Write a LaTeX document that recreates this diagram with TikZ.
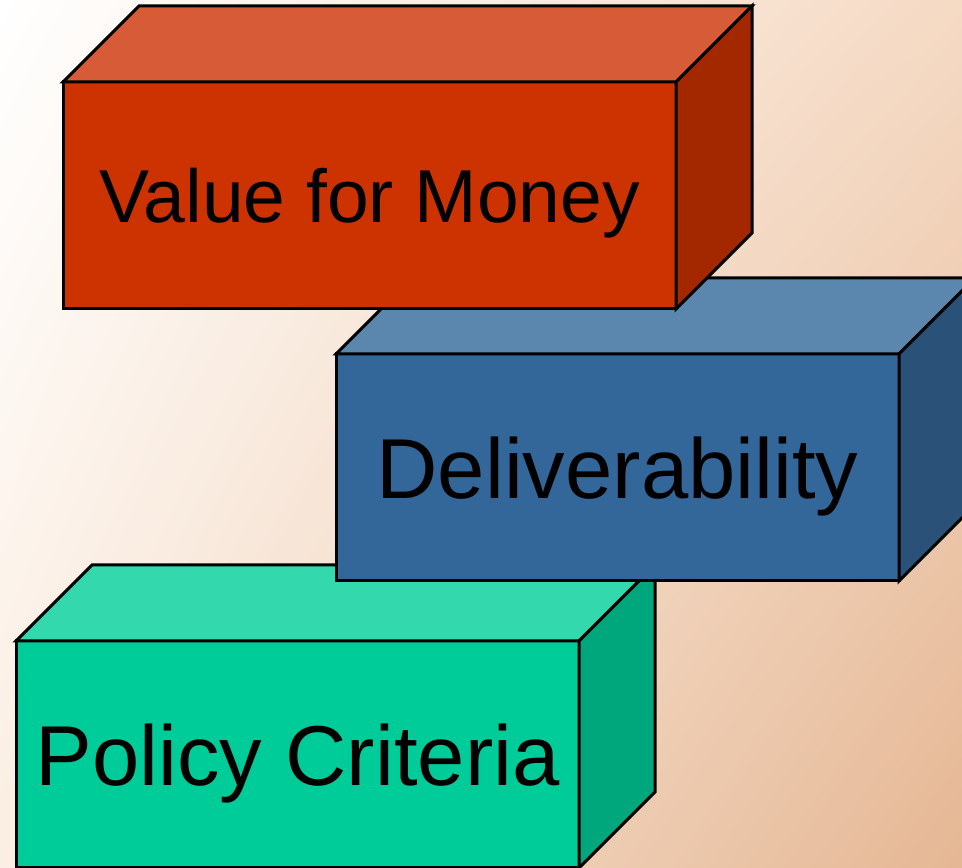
\documentclass[tikz,border=0pt]{standalone}
\usepackage{fontspec}
\setmainfont{Liberation Sans}
\usepackage{tikz}
\usetikzlibrary{positioning, calc, shadings}

\definecolor{vfmfront}{HTML}{CC3300}
\definecolor{vfmtop}{HTML}{D65B36}
\definecolor{vfmside}{HTML}{A32800}
\definecolor{delfront}{HTML}{336699}
\definecolor{deltop}{HTML}{5B86AE}
\definecolor{delside}{HTML}{2A5279}
\definecolor{polfront}{HTML}{00CC99}
\definecolor{poltop}{HTML}{33D9AD}
\definecolor{polside}{HTML}{00A67C}
\definecolor{bgur}{RGB}{245,218,196}
\definecolor{bgll}{RGB}{251,238,226}
\definecolor{bglr}{RGB}{229,183,148}

\tikzset{
  block/.style={draw, line width=3pt, inner sep=0pt, outer sep=0pt,
    minimum width=563pt, minimum height=227pt, text depth=0pt,
    font=\fontsize{85}{90}\selectfont},
  face/.style={draw, line width=3pt}
}

\begin{document}
\begin{tikzpicture}[x=1pt,y=1pt]
  \clip (0,0) rectangle (962,868);
  \shade[upper left=white, upper right=bgur, lower left=bgll, lower right=bglr]
    (0,0) rectangle (962,868);

  % bottom block
  \node[block, fill=polfront] (pol) at (297.5,113.5) {Policy Criteria};
  \draw[face, fill=poltop] (pol.north west) -- ++(76,76)
    -- ($(pol.north east)+(76,76)$) -- (pol.north east) -- cycle;
  \draw[face, fill=polside] (pol.north east) -- ++(76,76)
    -- ++(0,-227) -- (pol.south east) -- cycle;

  % middle block
  \node[block, fill=delfront] (del) at (617.5,400.5) {Deliverability};
  \draw[face, fill=deltop] (del.north west) -- ++(76,76)
    -- ($(del.north east)+(76,76)$) -- (del.north east) -- cycle;
  \draw[face, fill=delside] (del.north east) -- ++(76,76)
    -- ++(0,-227) -- (del.south east) -- cycle;

  % top block
  \node[block, fill=vfmfront, minimum width=613pt,
    font=\fontsize{75}{80}\selectfont] (vfm) at (369.5,672.5) {Value for Money};
  \draw[face, fill=vfmtop] (vfm.north west) -- ++(76,76)
    -- ($(vfm.north east)+(76,76)$) -- (vfm.north east) -- cycle;
  \draw[face, fill=vfmside] (vfm.north east) -- ++(76,76)
    -- ++(0,-227) -- (vfm.south east) -- cycle;
\end{tikzpicture}
\end{document}
